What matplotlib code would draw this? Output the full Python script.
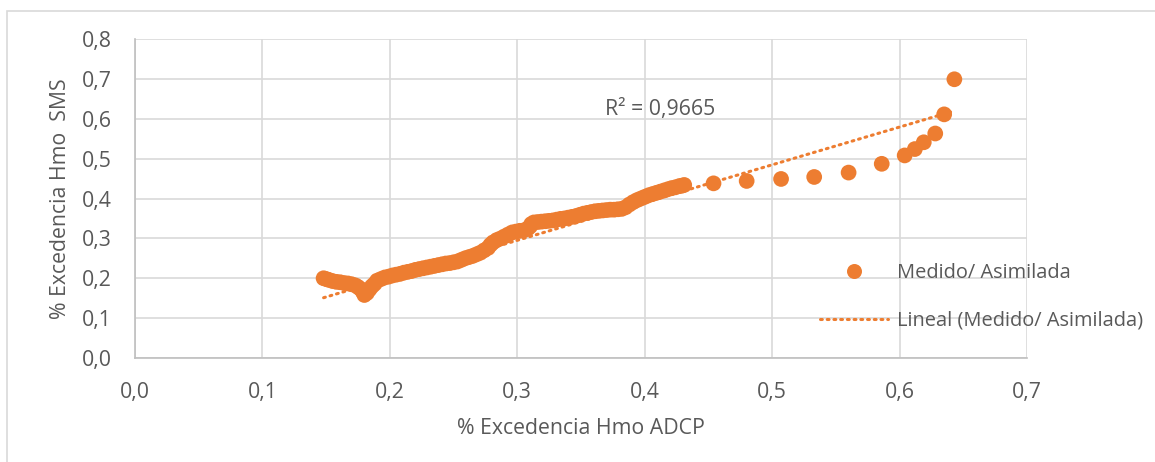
import numpy as np
import matplotlib
matplotlib.use("Agg")
import matplotlib.pyplot as plt
from matplotlib.lines import Line2D
from matplotlib.patches import Rectangle

# Exceedance pairs: ADCP (x) vs SMS (y), Hmo
adcp = [0.148, 0.150, 0.152, 0.155, 0.158, 0.161, 0.164, 0.167, 0.170, 0.173,
        0.175, 0.177, 0.179, 0.180, 0.182, 0.184, 0.186, 0.188, 0.190, 0.193,
        0.196, 0.199, 0.202, 0.205, 0.208, 0.211, 0.214, 0.217, 0.220, 0.223,
        0.226, 0.229, 0.232, 0.235, 0.238, 0.241, 0.244, 0.247, 0.250, 0.253,
        0.256, 0.259, 0.262, 0.265, 0.268, 0.271, 0.274, 0.277, 0.279, 0.281,
        0.284, 0.287, 0.290, 0.293, 0.296, 0.299, 0.302, 0.305, 0.308, 0.310,
        0.311, 0.313, 0.316, 0.319, 0.322, 0.325, 0.328, 0.331, 0.334, 0.337,
        0.340, 0.343, 0.346, 0.349, 0.352, 0.355, 0.358, 0.361, 0.364, 0.367,
        0.370, 0.373, 0.376, 0.379, 0.382, 0.385, 0.388, 0.391, 0.394, 0.397,
        0.400, 0.403, 0.406, 0.409, 0.412, 0.415, 0.418, 0.421, 0.424, 0.427,
        0.429, 0.431,
        0.454, 0.480, 0.507, 0.533, 0.560, 0.586, 0.604, 0.612, 0.619, 0.628,
        0.635, 0.643]
sms = [0.200, 0.198, 0.196, 0.193, 0.191, 0.190, 0.188, 0.187, 0.185, 0.182,
       0.178, 0.173, 0.165, 0.158, 0.163, 0.172, 0.180, 0.186, 0.194, 0.198,
       0.202, 0.204, 0.207, 0.209, 0.211, 0.214, 0.216, 0.218, 0.221, 0.223,
       0.225, 0.227, 0.229, 0.231, 0.233, 0.235, 0.237, 0.238, 0.240, 0.242,
       0.246, 0.250, 0.253, 0.256, 0.260, 0.264, 0.270, 0.276, 0.284, 0.290,
       0.296, 0.300, 0.305, 0.310, 0.315, 0.317, 0.319, 0.320, 0.324, 0.330,
       0.336, 0.340, 0.341, 0.342, 0.343, 0.344, 0.345, 0.347, 0.349, 0.350,
       0.352, 0.354, 0.356, 0.359, 0.362, 0.364, 0.366, 0.368, 0.369, 0.370,
       0.371, 0.372, 0.372, 0.373, 0.374, 0.378, 0.385, 0.391, 0.396, 0.400,
       0.404, 0.408, 0.411, 0.414, 0.417, 0.420, 0.423, 0.426, 0.428, 0.431,
       0.432, 0.434,
       0.438, 0.444, 0.449, 0.454, 0.465, 0.487, 0.508, 0.524, 0.541, 0.563,
       0.611, 0.699]

# Linear trend coefficients and fit quality
trend_slope = 0.947
trend_intercept = 0.011
r2_text = "R² = 0,9665"

x_ticks = [0.0, 0.1, 0.2, 0.3, 0.4, 0.5, 0.6, 0.7]
y_ticks = [0.0, 0.1, 0.2, 0.3, 0.4, 0.5, 0.6, 0.7, 0.8]
series_label = "Medido/ Asimilada"
trend_label = "Lineal (Medido/ Asimilada)"

ORANGE = "#ED7D31"
GRID = "#D9D9D9"
TEXT = "#595959"
FONT = ["Open Sans", "DejaVu Sans"]
FS = 15.3
FS_LEGEND = 14.4

plt.rcParams["font.family"] = FONT

fig = plt.figure(figsize=(11.55, 4.62), dpi=100)
ax = fig.add_axes([135 / 1155, 1 - 358 / 462, 892 / 1155, 319 / 462])

x = np.array(adcp)
y = np.array(sms)

ax.scatter(x, y, s=128, color=ORANGE, edgecolors="none", zorder=3)

xt = np.array([x.min(), x.max()])
ax.plot(xt, trend_slope * xt + trend_intercept, color=ORANGE, lw=2.2,
        linestyle=(0, (0.6, 1.6)), dash_capstyle="round", zorder=4)

ax.text(0.369, 0.624, r2_text, fontsize=FS, color=TEXT,
        ha="left", va="center")

ax.set_xlim(0, 0.7)
ax.set_ylim(0, 0.8)
ax.set_xticks(x_ticks)
ax.set_yticks(y_ticks)
fmt = lambda v: f"{v:.1f}".replace(".", ",")
ax.set_xticklabels([fmt(v) for v in x_ticks])
ax.set_yticklabels([fmt(v) for v in y_ticks])
ax.tick_params(axis="both", length=0, labelsize=FS, labelcolor=TEXT)
ax.tick_params(axis="x", pad=17)
ax.tick_params(axis="y", pad=16.5)

ax.grid(True, color=GRID, lw=1.2, zorder=0)
ax.set_axisbelow(True)
for side in ["top", "right"]:
    ax.spines[side].set_visible(False)
for side in ["left", "bottom"]:
    ax.spines[side].set_color("#BFBFBF")
    ax.spines[side].set_linewidth(1.2)

ax.set_xlabel("% Excedencia Hmo ADCP", fontsize=FS, color=TEXT, labelpad=11)
ax.set_ylabel("% Excedencia Hmo  SMS", fontsize=FS, color=TEXT, labelpad=8)

handles = [
    Line2D([], [], linestyle="none", marker="o", markersize=10.8,
           markerfacecolor=ORANGE, markeredgecolor="none"),
    Line2D([], [], color=ORANGE, lw=2.2, linestyle=(0, (0.6, 1.6)),
           dash_capstyle="round"),
]
fig.legend(handles, [series_label, trend_label], loc="center left",
           bbox_to_anchor=(820 / 1155, 1 - 296.5 / 462), frameon=False,
           fontsize=FS_LEGEND, labelcolor=TEXT, handlelength=3.4,
           handletextpad=0.45, labelspacing=1.4, borderpad=0,
           borderaxespad=0)

# Outer chart frame
fig.patches.append(Rectangle((7 / 1155, -0.05), 1.2, 1 - 11 / 462 + 0.05,
                             transform=fig.transFigure, fill=False,
                             edgecolor=GRID, lw=1.2))

fig.savefig("out.png", dpi=100)
